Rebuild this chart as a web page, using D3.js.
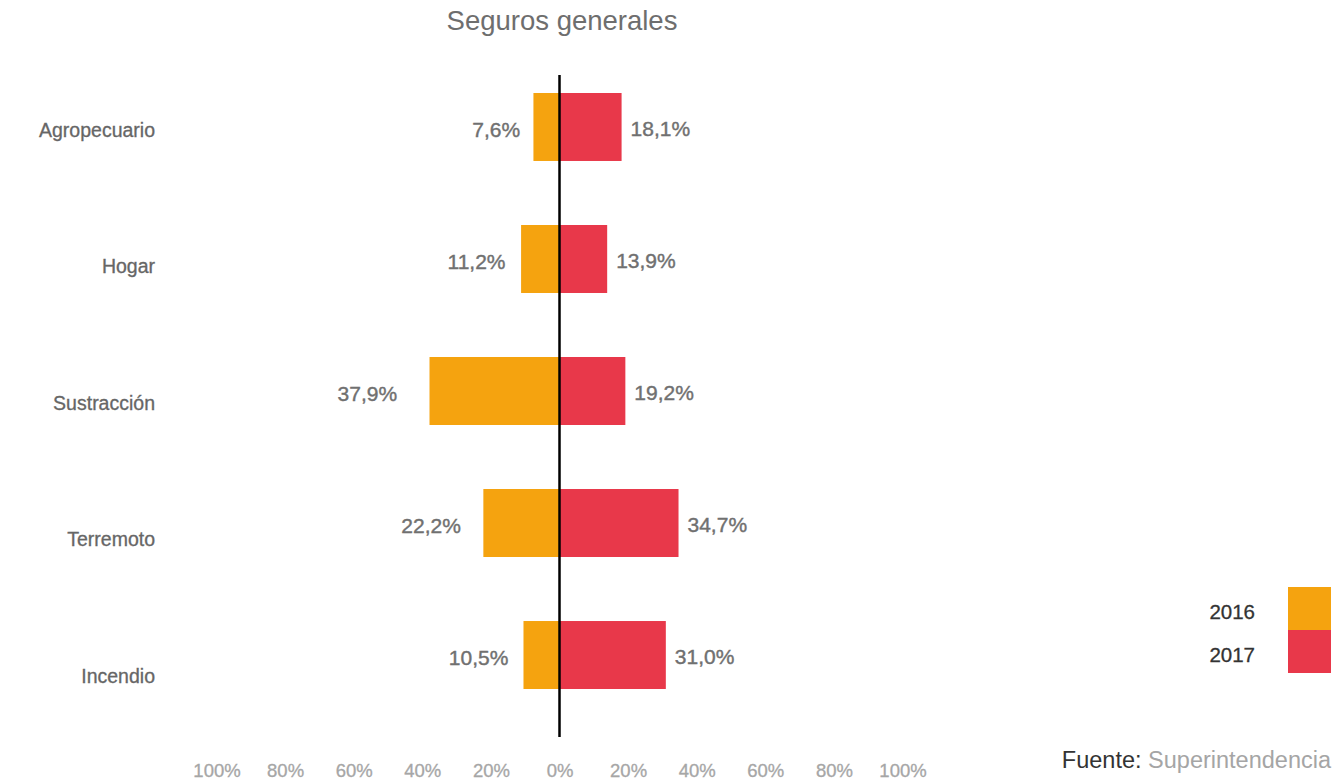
<!DOCTYPE html>
<html>
<head>
<meta charset="utf-8">
<script src="https://cdn.jsdelivr.net/npm/d3@7"></script>
<style>
  html, body { margin: 0; padding: 0; background: #fff; }
  svg { display: block; font-family: "Liberation Sans", Arial, Helvetica, sans-serif; }
</style>
</head>
<body>
<svg id="chart" width="1337" height="782"></svg>
<script>
const title = "Seguros generales";
const categories = ["Agropecuario", "Hogar", "Sustracción", "Terremoto", "Incendio"];
const values2016 = [7.6, 11.2, 37.9, 22.2, 10.5];
const values2017 = [18.1, 13.9, 19.2, 34.7, 31.0];
const seriesNames = ["2016", "2017"];
const seriesColors = ["#F5A30F", "#E8384A"];
const tickValues = [-100, -80, -60, -40, -20, 0, 20, 40, 60, 80, 100];
const sourceLabel = "Fuente:";
const sourceName = "Superintendencia";

const fmt = v => v.toFixed(1).replace(".", ",") + "%";

const svg = d3.select("#chart");

const x = d3.scaleLinear().domain([-100, 100]).range([216.5, 902.5]);
const y = d3.scaleBand().domain(categories).range([93, 689]).paddingInner(0.485).paddingOuter(0);
const yLab = d3.scalePoint().domain(categories).range([130, 676]);
// label placement scale for left-side values
const xLabL = d3.scaleLinear().domain([0, 100]).range([551, 145]);

// title
svg.append("text")
  .attr("x", 562).attr("y", 30)
  .attr("text-anchor", "middle")
  .attr("font-size", 27.5)
  .attr("fill", "#6e6e6e")
  .text(title);

// category labels
svg.append("g").selectAll("text")
  .data(categories).join("text")
  .attr("x", 155)
  .attr("y", d => yLab(d))
  .attr("dy", "0.35em")
  .attr("text-anchor", "end")
  .attr("font-size", 19.5)
  .attr("fill", "#666")
  .attr("stroke", "#666")
  .attr("stroke-width", 0.3)
  .text(d => d);

// bars 2016 (left)
svg.append("g").selectAll("rect")
  .data(categories).join("rect")
  .attr("x", (d, i) => x(-values2016[i]))
  .attr("y", d => y(d))
  .attr("width", (d, i) => x(0) - x(-values2016[i]))
  .attr("height", y.bandwidth())
  .attr("fill", seriesColors[0]);

// bars 2017 (right)
svg.append("g").selectAll("rect")
  .data(categories).join("rect")
  .attr("x", x(0))
  .attr("y", d => y(d))
  .attr("width", (d, i) => x(values2017[i]) - x(0))
  .attr("height", y.bandwidth())
  .attr("fill", seriesColors[1]);

// value labels 2016
svg.append("g").selectAll("text")
  .data(categories).join("text")
  .attr("x", (d, i) => xLabL(values2016[i]))
  .attr("y", d => y(d) + y.bandwidth() / 2 + 3)
  .attr("dy", "0.35em")
  .attr("text-anchor", "end")
  .attr("font-size", 21)
  .attr("fill", "#707070")
  .attr("stroke", "#707070")
  .attr("stroke-width", 0.4)
  .text((d, i) => fmt(values2016[i]));

// value labels 2017
svg.append("g").selectAll("text")
  .data(categories).join("text")
  .attr("x", (d, i) => x(values2017[i]) + 9)
  .attr("y", d => y(d) + y.bandwidth() / 2 + 2)
  .attr("dy", "0.35em")
  .attr("text-anchor", "start")
  .attr("font-size", 21)
  .attr("fill", "#707070")
  .attr("stroke", "#707070")
  .attr("stroke-width", 0.4)
  .text((d, i) => fmt(values2017[i]));

// center line
svg.append("line")
  .attr("x1", x(0)).attr("x2", x(0))
  .attr("y1", 75).attr("y2", 737)
  .attr("stroke", "#000")
  .attr("stroke-width", 2.5);

// x axis
const axis = svg.append("g")
  .attr("transform", "translate(0,758)")
  .call(d3.axisBottom(x).tickValues(tickValues).tickSize(0).tickPadding(0)
    .tickFormat(d => Math.abs(d) + "%"));
axis.select(".domain").remove();
axis.selectAll("text")
  .attr("font-family", "Liberation Sans, Arial, sans-serif")
  .attr("font-size", 18.5)
  .attr("fill", "#a6a6a6")
  .attr("stroke", "#a6a6a6")
  .attr("stroke-width", 0.3)
  .attr("dy", "1em");

// legend
const legend = svg.append("g");
seriesNames.forEach((name, i) => {
  legend.append("rect")
    .attr("x", 1288).attr("y", 587 + i * 43)
    .attr("width", 43).attr("height", 43)
    .attr("fill", seriesColors[i]);
  legend.append("text")
    .attr("x", 1255).attr("y", 587 + i * 43 + 24.5)
    .attr("dy", "0.35em")
    .attr("text-anchor", "end")
    .attr("font-size", 20.5)
    .attr("fill", "#333")
    .attr("stroke", "#333")
    .attr("stroke-width", 0.3)
    .text(name);
});

// source
const src = svg.append("text")
  .attr("x", 1331).attr("y", 768)
  .attr("text-anchor", "end")
  .attr("font-size", 23.5);
src.append("tspan").attr("fill", "#333").text(sourceLabel + " ");
src.append("tspan").attr("fill", "#a5a5a5").text(sourceName);
</script>
</body>
</html>
